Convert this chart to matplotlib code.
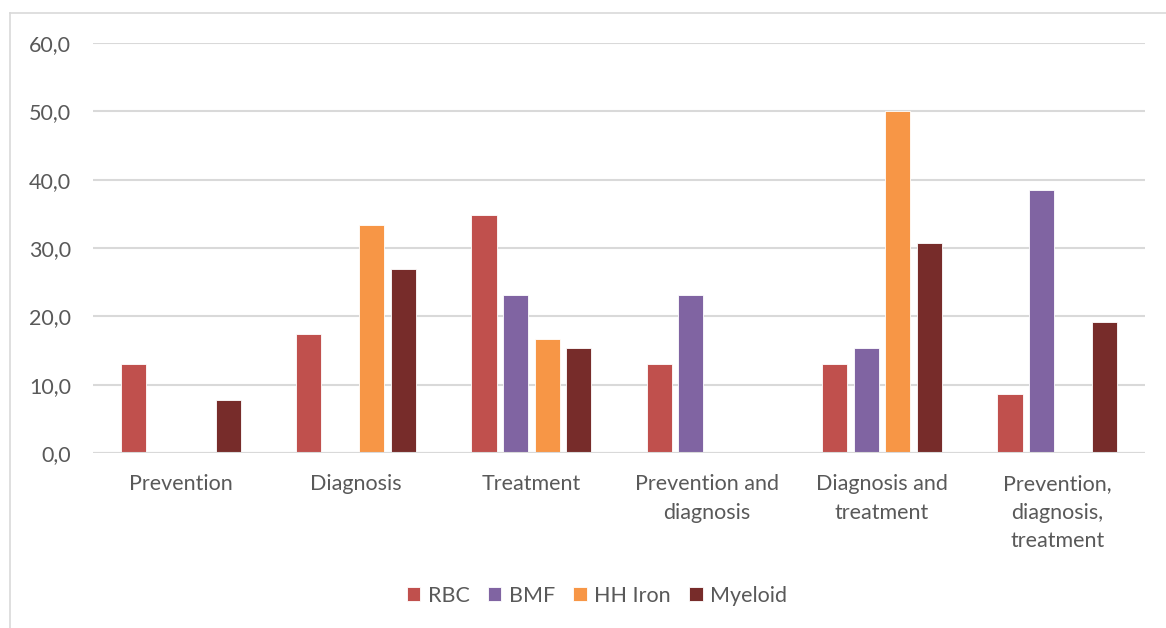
import matplotlib.pyplot as plt
import numpy as np
from matplotlib.lines import Line2D

categories = ["Prevention", "Diagnosis", "Treatment", "Prevention and\ndiagnosis",
              "Diagnosis and\ntreatment", "Prevention,\ndiagnosis,\ntreatment"]
series = ["RBC", "BMF", "HH Iron", "Myeloid"]
rbc = [13.0, 17.4, 34.8, 13.0, 13.0, 8.7]
bmf = [0.0, 0.0, 23.1, 23.1, 15.4, 38.5]
hh_iron = [0.0, 33.3, 16.7, 0.0, 50.0, 0.0]
myeloid = [7.7, 26.9, 15.4, 0.0, 30.8, 19.2]
yticks = [0, 10, 20, 30, 40, 50, 60]

colors = ["#C0504D", "#8064A2", "#F79646", "#772C2A"]
text_color = "#595959"
grid_color = "#D9D9D9"

plt.rcParams['font.family'] = ['Lato', 'DejaVu Sans']
plt.rcParams['font.size'] = 15.5

fig = plt.figure(figsize=(11.66, 6.28), dpi=100)
ax = fig.add_axes([0.0798, 0.2787, 0.9022, 0.6528])

x = np.arange(len(categories))
pitch = 0.18
width = 0.143
for i, (name, vals) in enumerate(zip(series, [rbc, bmf, hh_iron, myeloid])):
    ax.bar(x + (i - 1.5) * pitch, vals, width, color=colors[i], label=name,
           edgecolor="white", linewidth=0.6, zorder=3)

ax.set_xlim(-0.5, len(categories) - 0.5)
ax.set_ylim(0, 60)
ax.set_yticks(yticks)
ax.set_yticklabels([f"{v:.1f}".replace(".", ",") for v in yticks], color=text_color)
ax.set_xticks(x)
ax.set_xticklabels(categories, color=text_color, linespacing=1.55, va="top")
ax.tick_params(axis="both", length=0)
ax.tick_params(axis="y", pad=16)
ax.tick_params(axis="x", pad=15)
ax.yaxis.grid(True, color=grid_color, linewidth=1.5, zorder=0)
ax.set_axisbelow(True)
for s in ax.spines.values():
    s.set_visible(False)
ax.axhline(0, color=grid_color, linewidth=1.5, zorder=4)

leg = ax.legend(loc="center", bbox_to_anchor=(0.512, 1 - 596 / 628), bbox_transform=fig.transFigure,
                ncol=4, frameon=False, handlelength=0.62, handleheight=0.62,
                handletextpad=0.35, columnspacing=0.85)
for t in leg.get_texts():
    t.set_color(text_color)

# outer chart border (top and left visible)
fig.add_artist(Line2D([10 / 1166, 10 / 1166], [0, 1 - 13 / 628], transform=fig.transFigure,
                      color=grid_color, linewidth=1.2))
fig.add_artist(Line2D([10 / 1166, 1], [1 - 13 / 628, 1 - 13 / 628], transform=fig.transFigure,
                      color=grid_color, linewidth=1.2))

fig.savefig("out.png", dpi=100)
